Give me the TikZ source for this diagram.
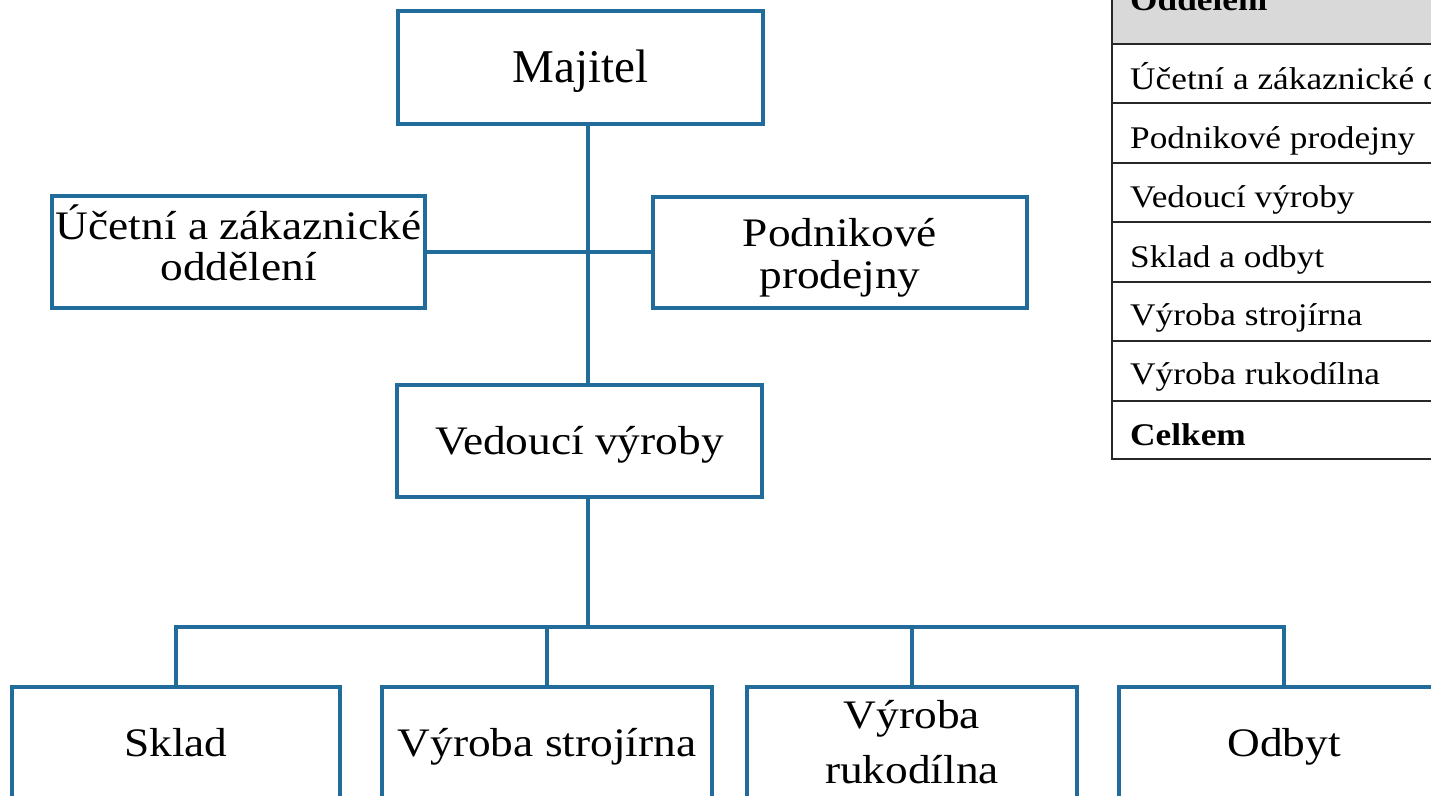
\documentclass[tikz,border=0pt]{standalone}
\usepackage{fontspec}
\setmainfont[FakeStretch=1.12]{Liberation Serif}
\newfontfamily\plainserif{Liberation Serif}
\definecolor{boxblue}{RGB}{33,108,155}
\definecolor{headgrey}{RGB}{217,217,217}
\definecolor{tabline}{RGB}{40,40,40}
\tikzset{
  orgbox/.style={draw=boxblue, line width=4pt, fill=white, inner sep=0pt,
    align=center, font=\fontsize{40.5}{41.5}\selectfont, text height=27pt, text depth=0pt},
  tabtext/.style={anchor=base west, inner sep=0pt, font=\fontsize{31.5}{32}\selectfont},
  conn/.style={draw=boxblue, line width=4pt},
  tabrule/.style={draw=tabline, line width=1.6pt}
}
\begin{document}
\begin{tikzpicture}[x=1pt,y=-1pt]
\useasboundingbox (0,0) rectangle (1431,795);
\clip (0,0) rectangle (1431,795);
\fill[white] (0,0) rectangle (1431,795);

% table (cut off at top right)
\fill[headgrey] (1112,-20) rectangle (1460,44);
\foreach \yy in {44,103,163,222,282,341,401,459}
  \draw[tabrule] (1112,\yy) -- (1460,\yy);
\draw[tabrule] (1112,-20) -- (1112,459.8);
\node[tabtext, font=\fontsize{31.5}{32}\bfseries\selectfont] (th) at (1130,10) {Oddělení};
\node[tabtext] (t1) at (1130,89) {Účetní a zákaznické oddělení};
\node[tabtext] (t2) at (1130,148) {Podnikové prodejny};
\node[tabtext] (t3) at (1130,207) {Vedoucí výroby};
\node[tabtext] (t4) at (1130,267) {Sklad a odbyt};
\node[tabtext] (t5) at (1130,325) {Výroba strojírna};
\node[tabtext] (t6) at (1130,384) {Výroba rukodílna};
\node[tabtext, font=\fontsize{31.5}{32}\bfseries\selectfont] (t7) at (1130,445) {Celkem};

% org chart boxes
\node[orgbox, minimum width=365pt, minimum height=113pt, text height=31pt,
  font=\plainserif\fontsize{47}{48}\selectfont] (maj) at (580.5,67) {Majitel};
\node[orgbox, minimum width=373pt, minimum height=112pt, text height=57pt, text depth=0pt]
  (uc) at (238.5,252) {Účetní a zákaznické\\oddělení};
\node[orgbox, minimum width=374pt, minimum height=111pt, text height=72pt, text depth=0pt]
  (pod) at (840,252) {Podnikové\\prodejny};
\node[orgbox, minimum width=365pt, minimum height=112pt] (ved) at (579.5,441) {Vedoucí výroby};

\node[orgbox, minimum width=328pt, minimum height=112pt] (skl) at (176,742.5) {Sklad};
\node[orgbox, minimum width=330pt, minimum height=112pt] (str) at (547,742.5) {Výroba strojírna};
\node[orgbox, minimum width=330pt, minimum height=112pt, text height=81pt, text depth=0pt,
  font=\fontsize{40.5}{55}\selectfont] (ruk) at (912,742.5) {Výroba\\rukodílna};
\node[orgbox, minimum width=330pt, minimum height=112pt] (odb) at (1284,742.5) {Odbyt};

% connectors
\coordinate (spine) at (588,627);
\draw[conn] (maj.south -| spine) -- (ved.north -| spine);
\draw[conn] (uc.east) -- (pod.west);
\draw[conn] (ved.south -| spine) -- (spine);
\draw[conn] (skl.north) |- (spine) -| (odb.north);
\draw[conn] (str.north) -- (str.north |- spine);
\draw[conn] (ruk.north) -- (ruk.north |- spine);
\end{tikzpicture}
\end{document}
